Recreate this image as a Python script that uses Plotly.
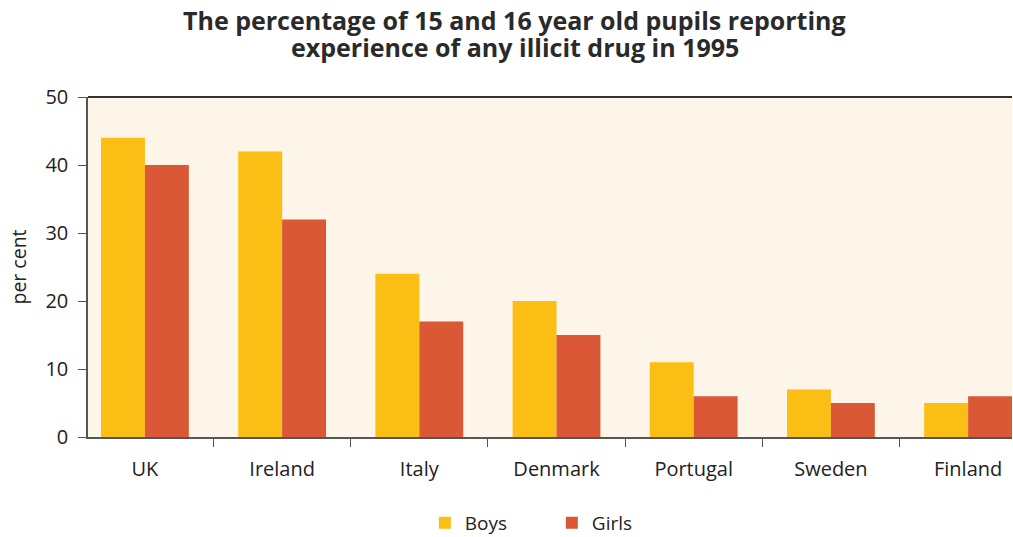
import plotly.graph_objects as go

countries = ["UK", "Ireland", "Italy", "Denmark", "Portugal", "Sweden", "Finland"]
boys = [44, 42, 24, 20, 11, 7, 5]
girls = [40, 32, 17, 15, 6, 5, 6]
y_ticks = [0, 10, 20, 30, 40, 50]
title_lines = ["The percentage of 15 and 16 year old pupils reporting",
               "experience of any illicit drug in 1995"]

font_family = "Open Sans, Lato, sans-serif"
axis_col = "#555555"

fig = go.Figure()
fig.add_trace(go.Bar(name="Boys", x=countries, y=boys, marker=dict(color="#FBBE14", line=dict(width=0))))
fig.add_trace(go.Bar(name="Girls", x=countries, y=girls, marker=dict(color="#DA5835", line=dict(width=0))))

fig.update_layout(
    width=1013, height=537,
    margin=dict(l=88, r=1, t=97, b=100, autoexpand=False),
    paper_bgcolor="white",
    plot_bgcolor="#FDF5E7",
    barmode="group",
    bargap=0.36,
    bargroupgap=0,
    font=dict(family=font_family, color="#222222", size=18),
    legend=dict(
        orientation="h", x=0.502, xanchor="center", y=-0.253, yanchor="middle",
        font=dict(size=19), itemwidth=30, traceorder="normal",
        entrywidth=82,
    ),
    xaxis=dict(
        type="category",
        range=[-0.415, 6.32],
        showline=True, linecolor=axis_col, linewidth=1.5,
        ticks="outside", tickson="boundaries", ticklen=8, tickcolor=axis_col,
        showgrid=False, automargin=False,
        tickfont=dict(size=20),
        ticklabelstandoff=13,
    ),
    yaxis=dict(
        range=[0, 50],
        tickvals=y_ticks,
        showline=True, linecolor=axis_col, linewidth=1.5,
        ticks="outside", ticklen=8, tickcolor=axis_col,
        showgrid=False, zeroline=False, automargin=False,
        tickfont=dict(size=20),
        ticklabelstandoff=6,
        title=dict(text="per cent", font=dict(size=19.5), standoff=14),
    ),
)

for line, ypos in zip(title_lines, [1.2265, 1.147]):
    fig.add_annotation(text=f"<b>{line}</b>", xref="paper", yref="paper",
                       x=0.462, y=ypos, xanchor="center", yanchor="middle",
                       showarrow=False,
                       font=dict(size=25, color="#2a2a2a", family=font_family))

fig.add_shape(type="line", xref="paper", yref="paper", x0=0, x1=1, y0=1, y1=1,
              line=dict(color="#333333", width=2))

fig.write_html("out.html", config={"displayModeBar": False},
               post_script="document.body.style.margin='0';document.body.style.padding='0';")
